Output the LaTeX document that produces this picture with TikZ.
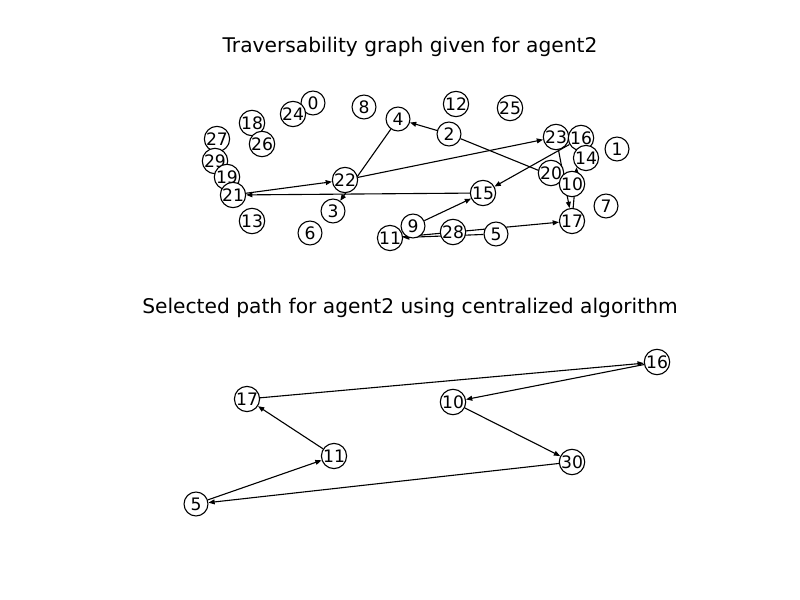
\documentclass[tikz,border=0pt]{standalone}
\usepackage{fontspec}
\setmainfont{DejaVu Sans}
\usetikzlibrary{arrows.meta,backgrounds}
\begin{document}
\begin{tikzpicture}[x=0.01in,y=-0.01in,font=\fontsize{12.4}{14}\selectfont]
	\useasboundingbox (0,0) rectangle (800,600);
	\begin{scope}[every node/.style={font=\fontsize{14.6}{17}\selectfont}]
	\node (title1) at (410,47) {Traversability graph given for agent2};
	\node (title2) at (410,308) {Selected path for agent2 using centralized algorithm};
	\end{scope}
	\begin{scope}[every node/.style={circle,draw,fill=white,inner sep=0pt,minimum size=17.3pt,line width=0.8pt}]
	% traversability graph
	\node (t0) at (313,103) {0};
	\node (t24) at (293,114) {24};
	\node (t8) at (364,107) {8};
	\node (t4) at (398,119) {4};
	\node (t12) at (456,104) {12};
	\node (t25) at (510,108) {25};
	\node (t2) at (449,134) {2};
	\node (t18) at (252,123) {18};
	\node (t26) at (262,144) {26};
	\node (t27) at (217,139) {27};
	\node (t29) at (215,161) {29};
	\node (t19) at (227,177) {19};
	\node (t21) at (233,195) {21};
	\node (t22) at (345,180) {22};
	\node (t3) at (333,211) {3};
	\node (t6) at (310,233) {6};
	\node (t13) at (252,221) {13};
	\node (t15) at (483,193) {15};
	\node (t9) at (413,226) {9};
	\node (t11) at (390,238) {11};
	\node (t28) at (453,232) {28};
	\node (t5) at (496,234) {5};
	\node (t23) at (556,137) {23};
	\node (t16) at (581,138) {16};
	\node (t14) at (586,158) {14};
	\node (t20) at (551,173) {20};
	\node (t10) at (572,184) {10};
	\node (t17) at (572,221) {17};
	\node (t1) at (617,149) {1};
	\node (t7) at (606,206) {7};
	% selected path
	\node (p17) at (247,399) {17};
	\node (p16) at (657,362) {16};
	\node (p10) at (453,402) {10};
	\node (p11) at (334,456) {11};
	\node (p30) at (572,462) {30};
	\node (p5) at (196,504) {5};
	\end{scope}
	\begin{pgfonlayer}{background}
	\begin{scope}[every edge/.style={draw=black,line width=0.8pt,-{Triangle[length=4.5pt,width=3.5pt]}}]
	\path (t2) edge (t4);
	\path (t2) edge (t10);
	\path (t4) edge (t3);
	\path (t22) edge (t23);
	\path (t21) edge (t22);
	\path (t15) edge (t21);
	\path (t16) edge (t15);
	\path (t9) edge (t15);
	\path (t23) edge (t17);
	\path (t17) edge (t14.225);
	\path (t5) edge (t11);
	\path (t11) edge (t17);
	\path (p17) edge (p16);
	\path (p16) edge (p10);
	\path (p10) edge (p30);
	\path (p30) edge (p5);
	\path (p5) edge (p11);
	\path (p11) edge (p17);
	\end{scope}
	\end{pgfonlayer}
\end{tikzpicture}
\end{document}
